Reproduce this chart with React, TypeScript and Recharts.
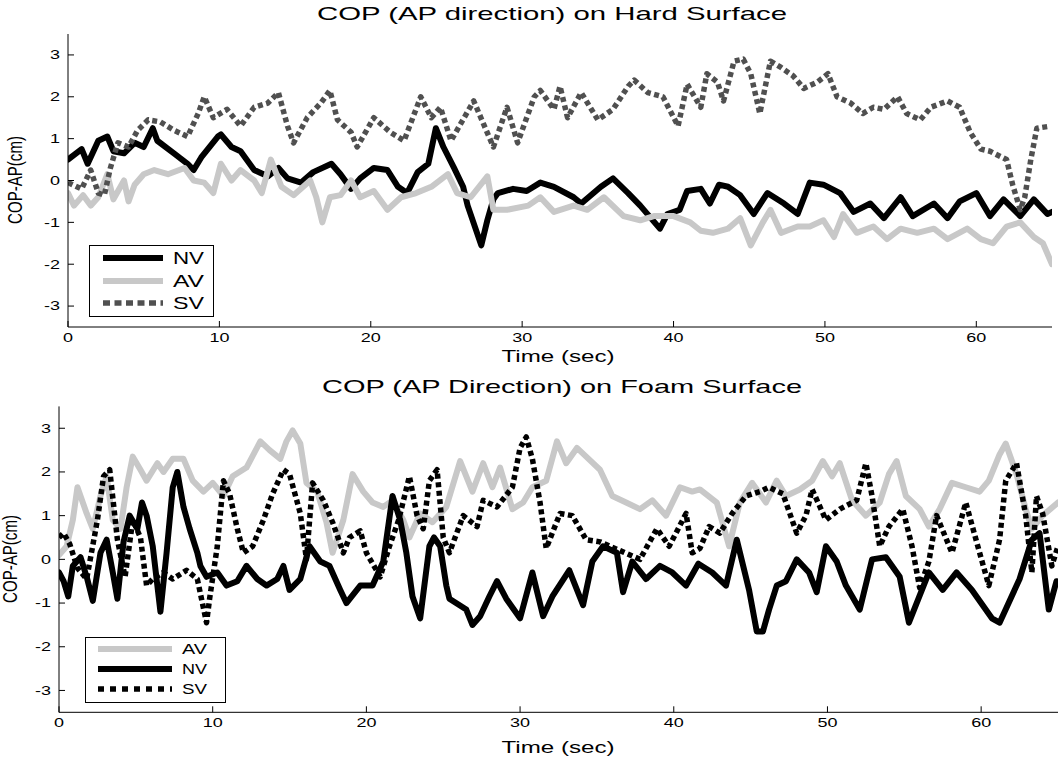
import React from 'react';
import { LineChart, Line, XAxis, YAxis, Legend } from 'recharts';

const FONT = 'Arial, "Liberation Sans", Helvetica, sans-serif';
const SX = 1.5; // the source picture is stretched sideways

const xTicks = [0, 10, 20, 30, 40, 50, 60];
const yTicks = [-3, -2, -1, 0, 1, 2, 3];

// ---- Hard surface ----
const hardNvT = [0, 0.9, 1.3, 2, 2.6, 3, 3.7, 4.4, 5, 5.6, 5.9, 7, 7.9, 8.3, 8.8, 9.9, 10.1, 10.8, 11.4, 12.3, 13.2, 13.9, 14.5, 15.4, 16.2, 17.4, 18, 18.7, 19.3, 20.2, 21.1, 21.8, 22.4, 23.1, 23.8, 24.3, 24.8, 25.5, 26.1, 26.4, 27.3, 27.7, 28.1, 28.4, 29.4, 30.3, 31.2, 32.1, 33.4, 33.9, 35.2, 36, 37, 37.8, 39.1, 39.6, 40.4, 40.9, 41.8, 42.4, 43, 43.6, 44.4, 45.3, 46.2, 47.3, 48.2, 49, 49.9, 51, 51.9, 53, 53.9, 55, 55.8, 57.2, 58.1, 58.9, 60, 60.9, 61.8, 62.9, 63.8, 64.7, 65];
const hardNvV = [0.5, 0.75, 0.4, 0.95, 1.05, 0.7, 0.65, 0.9, 0.8, 1.25, 0.95, 0.65, 0.4, 0.25, 0.55, 1.05, 1.1, 0.8, 0.7, 0.25, 0.1, 0.3, 0.05, -0.05, 0.2, 0.4, 0.15, -0.2, 0.05, 0.3, 0.25, -0.15, -0.3, 0.2, 0.4, 1.25, 0.8, 0.3, -0.15, -0.6, -1.55, -0.95, -0.45, -0.3, -0.2, -0.25, -0.05, -0.15, -0.4, -0.55, -0.15, 0.05, -0.3, -0.6, -1.15, -0.8, -0.7, -0.25, -0.2, -0.55, -0.1, -0.15, -0.35, -0.8, -0.3, -0.55, -0.8, -0.05, -0.1, -0.3, -0.75, -0.55, -0.9, -0.4, -0.85, -0.55, -0.9, -0.5, -0.3, -0.85, -0.45, -0.85, -0.45, -0.8, -0.75];

const hardAvT = [0, 0.4, 1, 1.5, 2, 2.6, 3, 3.7, 4, 4.4, 5, 5.7, 6.6, 7.7, 8.3, 9, 9.6, 10.1, 10.8, 11.4, 12.3, 12.8, 13.4, 14.1, 14.9, 16, 16.4, 16.8, 17.3, 18, 18.7, 19.3, 20.2, 21.1, 22, 23, 24, 25.1, 25.7, 26.6, 27.7, 28.1, 29, 30.4, 31.2, 32.1, 33.4, 34.3, 35.4, 36.7, 37.8, 38.7, 40, 41.1, 41.8, 42.6, 43.6, 44.4, 45.1, 45.9, 46.4, 47.1, 48.2, 49, 49.9, 50.6, 51.2, 52.1, 53.2, 54.1, 55, 56.1, 57.2, 58.1, 59.4, 60.3, 61.1, 62, 62.9, 63.8, 64.4, 65];
const hardAvV = [-0.3, -0.6, -0.35, -0.6, -0.4, 0.15, -0.45, 0, -0.5, -0.1, 0.15, 0.25, 0.15, 0.3, 0, -0.05, -0.3, 0.4, 0, 0.25, 0, -0.3, 0.5, -0.15, -0.35, 0, -0.4, -1.0, -0.4, -0.35, 0, -0.4, -0.25, -0.7, -0.4, -0.3, -0.15, 0.15, -0.3, -0.4, 0.1, -0.7, -0.7, -0.6, -0.4, -0.75, -0.6, -0.7, -0.4, -0.85, -0.95, -0.85, -0.85, -1.0, -1.2, -1.25, -1.15, -0.9, -1.55, -1.0, -0.7, -1.25, -1.1, -1.1, -0.95, -1.35, -0.8, -1.25, -1.1, -1.4, -1.15, -1.25, -1.15, -1.4, -1.15, -1.4, -1.5, -1.1, -1.0, -1.35, -1.5, -2.0];

const hardSvT = [0, 0.9, 1.5, 2, 2.4, 2.8, 3.3, 4, 4.6, 5.3, 6.1, 7, 7.9, 8.6, 9, 9.6, 10.5, 11.4, 12.3, 13.2, 13.9, 14.5, 14.9, 15.8, 16.7, 17.3, 17.8, 18.7, 19.1, 20.2, 21.3, 22.2, 23.3, 24, 24.6, 25.3, 26.8, 28.1, 29, 29.7, 30.8, 31.2, 32.1, 32.5, 33, 33.9, 35, 36, 37, 37.4, 38.3, 39.3, 40.3, 40.9, 41.8, 42.2, 42.9, 43.3, 44, 44.6, 45.1, 45.7, 46.4, 47.1, 47.9, 48.6, 49.5, 50.2, 50.8, 51.7, 52.5, 53.2, 53.9, 54.8, 55.4, 56.3, 57, 58.1, 58.9, 59.6, 60.3, 60.9, 62, 62.4, 62.9, 63.2, 63.6, 64, 64.9];
const hardSvV = [-0.05, -0.2, 0.25, -0.3, -0.35, 0.3, 0.9, 0.8, 1.2, 1.45, 1.4, 1.2, 1.05, 1.6, 2.0, 1.5, 1.7, 1.3, 1.75, 1.85, 2.1, 1.3, 0.9, 1.5, 1.85, 2.15, 1.45, 1.15, 0.8, 1.5, 1.15, 0.95, 2.0, 1.5, 1.75, 0.95, 1.9, 0.8, 1.75, 0.9, 2.0, 2.15, 1.7, 2.25, 1.5, 2.1, 1.45, 1.7, 2.25, 2.4, 2.1, 2.0, 1.3, 2.3, 1.75, 2.55, 2.35, 1.9, 2.85, 2.9, 2.55, 1.6, 2.85, 2.7, 2.5, 2.2, 2.35, 2.55, 2.0, 1.85, 1.6, 1.75, 1.7, 2.0, 1.6, 1.45, 1.75, 1.9, 1.75, 1.15, 0.75, 0.7, 0.5, -0.1, -0.7, -0.4, 0.5, 1.25, 1.3];

// ---- Foam surface ----
const foamAvT = [0, 0.5, 0.9, 1.2, 1.8, 2.2, 2.7, 3.1, 3.5, 4, 4.4, 4.8, 5.3, 5.7, 6.4, 6.8, 7.4, 8.1, 8.7, 9.4, 10, 10.7, 11.3, 12.2, 13.1, 13.7, 14.4, 14.8, 15.2, 15.7, 16.1, 16.8, 17.4, 17.8, 18.5, 19.1, 19.8, 20.4, 21.1, 21.7, 22.4, 22.8, 23.5, 24.3, 25.2, 26.1, 26.9, 27.6, 28.2, 28.7, 29.5, 30.2, 30.8, 31.7, 32.4, 33, 33.7, 34.3, 35.2, 36, 36.9, 37.8, 38.6, 39.5, 40.4, 41.2, 41.7, 42.8, 43.6, 44.3, 45.1, 46, 46.7, 47.3, 48.2, 49, 49.7, 50.3, 50.8, 51.6, 52.5, 53.4, 54, 54.5, 55.1, 56, 56.6, 57.3, 58.1, 59, 59.9, 60.5, 61.2, 61.6, 62.3, 62.9, 63.3, 64, 65];
const foamAvV = [0.1, 0.3, 0.9, 1.65, 1.05, 0.7, 1.45, 1.9, 0.9, 0.7, 1.65, 2.35, 2.05, 1.8, 2.2, 2.0, 2.3, 2.3, 1.8, 1.55, 1.75, 1.45, 1.9, 2.1, 2.7, 2.5, 2.3, 2.7, 2.95, 2.65, 1.75, 1.55, 0.85, 0.15, 0.9, 1.95, 1.55, 1.3, 1.2, 1.35, 0.9, 0.5, 1.05, 0.85, 1.2, 2.25, 1.55, 2.2, 1.65, 2.1, 1.15, 1.3, 1.65, 1.8, 2.7, 2.2, 2.55, 2.35, 2.05, 1.45, 1.3, 1.15, 1.35, 1.0, 1.65, 1.55, 1.6, 1.3, 0.3, 1.3, 1.75, 1.3, 1.8, 1.45, 1.6, 1.8, 2.25, 1.9, 2.2, 1.35, 1.0, 1.3, 1.95, 2.25, 1.45, 1.15, 0.75, 1.15, 1.75, 1.65, 1.55, 1.8, 2.4, 2.65, 1.95, 1.15, 0.7, 1.0, 1.3];

const foamNvT = [0, 0.3, 0.6, 0.9, 1.4, 1.8, 2.2, 2.7, 3.1, 3.5, 3.8, 4.2, 4.6, 5.1, 5.4, 5.7, 6.1, 6.6, 7, 7.4, 7.7, 8.1, 8.5, 9, 9.2, 9.6, 10.3, 10.9, 11.6, 12.2, 12.9, 13.5, 14.2, 14.6, 15, 15.7, 16.3, 17, 17.6, 18.3, 18.7, 19.6, 20.4, 21.1, 21.7, 22.2, 22.6, 23, 23.5, 24.1, 24.4, 24.8, 25.2, 25.4, 26.5, 26.9, 27.4, 28, 28.5, 29.1, 30, 30.8, 31.5, 32.1, 33.2, 34.1, 34.7, 35.4, 36.3, 36.7, 37.3, 38.2, 39.1, 39.9, 40.8, 41.6, 42.5, 43.4, 44.1, 44.9, 45.4, 45.8, 46.2, 46.7, 47.3, 48, 48.8, 49.3, 49.9, 50.6, 51.2, 52.1, 52.9, 53.8, 54.7, 55.3, 56.6, 57.5, 58.4, 59.4, 60.7, 61.2, 62.5, 63.3, 63.8, 64.4, 64.9];
const foamNvV = [-0.3, -0.5, -0.85, -0.15, 0.05, -0.4, -0.95, 0.15, 0.45, -0.3, -0.9, 0.4, 1.0, 0.7, 1.3, 1.0, 0.3, -1.2, 0.15, 1.65, 2.0, 1.2, 0.7, 0.15, -0.15, -0.4, -0.3, -0.6, -0.5, -0.15, -0.45, -0.6, -0.45, -0.15, -0.7, -0.45, 0.3, -0.05, -0.15, -0.7, -1.0, -0.6, -0.6, -0.05, 1.45, 0.9, 0.15, -0.85, -1.35, 0.3, 0.5, 0.3, -0.6, -0.9, -1.15, -1.5, -1.3, -0.85, -0.5, -0.9, -1.35, -0.3, -1.3, -0.85, -0.25, -1.05, -0.05, 0.3, 0.15, -0.75, -0.05, -0.45, -0.15, -0.3, -0.6, -0.1, -0.3, -0.6, 0.45, -0.7, -1.65, -1.65, -1.15, -0.6, -0.5, 0.0, -0.3, -0.75, 0.3, -0.05, -0.6, -1.15, 0.0, 0.05, -0.4, -1.45, -0.3, -0.7, -0.3, -0.7, -1.35, -1.45, -0.45, 0.45, 0.6, -1.15, -0.5];

const foamSvT = [0, 0.3, 0.7, 1.2, 1.8, 2.5, 2.9, 3.3, 3.8, 4.3, 4.8, 5.3, 5.7, 6.1, 6.8, 7.4, 8.3, 9, 9.6, 9.8, 10.3, 10.7, 11.1, 11.6, 12, 12.6, 13.3, 13.9, 14.6, 15, 15.7, 16.1, 16.5, 17.2, 17.8, 18.5, 18.9, 19.6, 20, 20.9, 21.5, 22.1, 22.8, 23.3, 23.7, 24.1, 24.6, 25, 25.4, 26.3, 27.2, 27.6, 28.5, 29.5, 30, 30.4, 30.8, 31.3, 31.7, 32.6, 33.4, 34.3, 35.2, 36.5, 37.8, 38.9, 39.7, 40.8, 41.2, 41.7, 42.3, 43, 43.8, 44.7, 45.6, 46.2, 47.1, 48, 48.6, 49, 49.9, 50.8, 51.9, 52.5, 52.9, 53.4, 54, 54.9, 55.5, 56, 56.6, 57.1, 58.1, 59, 59.9, 60.5, 61.2, 61.6, 62.3, 62.9, 63.3, 63.6, 64, 64.6, 65];
const foamSvV = [0.5, 0.6, 0.35, -0.2, -0.45, 0.9, 1.9, 2.05, 0.45, -0.4, 0.9, 0.5, -0.6, -0.45, -0.3, -0.45, -0.25, -0.45, -1.45, -0.9, 0.3, 1.8, 1.5, 0.7, 0.15, 0.3, 0.9, 1.5, 2.05, 1.95, 1.05, 0.0, 1.75, 1.35, 0.85, 0.15, 0.5, 0.65, 0.15, -0.4, 0.3, 0.9, 1.9, 1.0, 0.7, 1.8, 2.05, 0.5, 0.15, 1.0, 0.75, 1.35, 1.2, 1.65, 2.55, 2.8, 2.3, 1.3, 0.25, 1.05, 1.0, 0.45, 0.4, 0.2, 0.0, 0.7, 0.3, 1.05, 0.15, 0.25, 0.75, 0.6, 1.05, 1.45, 1.55, 1.65, 1.5, 0.6, 1.0, 1.6, 0.9, 1.15, 1.35, 2.2, 1.45, 0.3, 0.75, 1.15, 0.3, -0.65, -0.05, 1.0, 0.15, 1.3, 0.15, -0.6, 0.45, 1.8, 2.2, 1.0, -0.3, 1.45, 1.05, -0.15, 0.3];

const pts = (t: number[], v: number[]) => t.map((x, i) => ({ t: x, v: v[i] }));

const XTick = (p: any) => (
  <text transform={`translate(${p.x},${p.y}) scale(${SX},1)`} textAnchor="middle" dy="0.71em" fontSize={12} fontFamily={FONT} fill="#000">
    {p.payload.value}
  </text>
);
const YTick = (p: any) => (
  <text transform={`translate(${p.x},${p.y}) scale(${SX},1)`} textAnchor="end" dy="0.36em" fontSize={12} fontFamily={FONT} fill="#000">
    {p.payload.value}
  </text>
);
const NoTick = () => <g />;

type Item = { name: string; color: string; width: number; dash?: string };

const makeLegend = (items: Item[], w: number, h: number, rows: number[], x1: number, x2: number, tx: number, fs: number, tl: number, legendDash: string) => () => (
  <svg width={w} height={h} style={{ display: 'block' }}>
    <rect x={0.5} y={0.5} width={w - 1} height={h - 1} fill="#fff" stroke="#000" strokeWidth={1} />
    {items.map((it, i) => (
      <g key={it.name}>
        <line x1={x1} x2={x2} y1={rows[i]} y2={rows[i]} stroke={it.color} strokeWidth={it.width} strokeDasharray={it.dash ? legendDash : undefined} />
        <text x={tx} y={rows[i]} dy="0.36em" fontSize={fs} fontFamily={FONT} textLength={tl} lengthAdjust="spacingAndGlyphs">{it.name}</text>
      </g>
    ))}
  </svg>
);

const Panel = (c: any) => (
  <div style={{ position: 'absolute', left: 0, top: c.top }}>
    <LineChart width={1062} height={c.height} margin={c.margin}>
      <XAxis type="number" dataKey="t" domain={[0, 65]} ticks={xTicks} interval={0} height={40} tickSize={-6} tickMargin={12} tick={XTick} axisLine={{ stroke: '#000' }} tickLine={{ stroke: '#000' }} allowDataOverflow />
      <XAxis xAxisId="top" orientation="top" type="number" domain={[0, 65]} ticks={xTicks} interval={0} height={0} tickSize={-6} tick={NoTick} axisLine={{ stroke: '#000' }} tickLine={{ stroke: '#000' }} allowDataOverflow />
      <YAxis type="number" domain={[-3.5, 3.5]} ticks={yTicks} interval={0} width={c.yWidth} tickSize={-6} tickMargin={14} tick={YTick} axisLine={{ stroke: '#000' }} tickLine={{ stroke: '#000' }} allowDataOverflow />
      <YAxis yAxisId="right" orientation="right" type="number" domain={[-3.5, 3.5]} ticks={yTicks} interval={0} width={0} tickSize={-6} tick={NoTick} axisLine={{ stroke: '#000' }} tickLine={{ stroke: '#000' }} allowDataOverflow />
      {c.series.map((s: any) => (
        <Line key={s.name} data={s.data} dataKey="v" name={s.name} type="linear" stroke={s.color} strokeWidth={s.width} strokeDasharray={s.dash} strokeLinejoin="round" strokeLinecap={s.dash ? 'butt' : 'round'} dot={false} activeDot={false} isAnimationActive={false} />
      ))}
      <Legend content={c.legend} wrapperStyle={c.legendBox} layout="vertical" align="center" verticalAlign="middle" />
      <text transform={`translate(${c.titleX},${c.titleY})`} textAnchor="middle" fontSize={19} fontFamily={FONT} textLength={c.titleLen} lengthAdjust="spacingAndGlyphs">{c.title}</text>
      <text transform={`translate(${c.timeX},${c.timeY})`} textAnchor="middle" fontSize={16} fontFamily={FONT} textLength={113} lengthAdjust="spacingAndGlyphs">Time (sec)</text>
      <text transform={`translate(${c.labelX},${c.labelY}) rotate(-90) scale(1,1.4)`} textAnchor="middle" fontSize={14} fontFamily={FONT} textLength={88} lengthAdjust="spacingAndGlyphs">COP-AP(cm)</text>
    </LineChart>
  </div>
);

const hardItems: Item[] = [
  { name: 'NV', color: '#000000', width: 6 },
  { name: 'AV', color: '#c8c8c8', width: 6 },
  { name: 'SV', color: '#505050', width: 5.5, dash: '5 3.5' },
];
const foamItems: Item[] = [
  { name: 'AV', color: '#c8c8c8', width: 6 },
  { name: 'NV', color: '#000000', width: 6 },
  { name: 'SV', color: '#000000', width: 5.5, dash: '5 3.5' },
];

export default function App() {
  const hardSeries = [
    { ...hardItems[0], data: pts(hardNvT, hardNvV) },
    { ...hardItems[1], data: pts(hardAvT, hardAvV) },
    { ...hardItems[2], data: pts(hardSvT, hardSvV) },
  ];
  const foamSeries = [
    { ...foamItems[0], data: pts(foamAvT, foamAvV) },
    { ...foamItems[1], data: pts(foamNvT, foamNvV) },
    { ...foamItems[2], data: pts(foamSvT, foamSvV) },
  ];
  return (
    <div style={{ position: 'absolute', left: 0, top: 0, width: 1062, height: 761, background: '#fff' }}>
      <Panel
        top={0}
        height={372}
        margin={{ top: 34, right: 10, left: 8, bottom: 5 }}
        yWidth={60}
        series={hardSeries}
        title="COP (AP direction) on Hard Surface"
        titleX={552}
        titleY={20}
        titleLen={470}
        timeX={558}
        timeY={362}
        labelX={22}
        labelY={180}
        legendBox={{ left: 89, top: 245, width: 125, height: 72 }}
        legend={makeLegend(hardItems, 125, 72, [13, 36, 58], 14, 74, 84, 17, 31, '7 4.5')}
      />
      <Panel
        top={372}
        height={389}
        margin={{ top: 34.4, right: 4, left: 9, bottom: 8.7 }}
        yWidth={50}
        series={foamSeries}
        title="COP (AP Direction) on Foam Surface"
        titleX={562}
        titleY={21}
        titleLen={480}
        timeX={558}
        timeY={381}
        labelX={17}
        labelY={187}
        legendBox={{ left: 85, top: 265, width: 141, height: 66 }}
        legend={makeLegend(foamItems, 141, 66, [12, 32, 52], 13, 87, 97, 15, 25, '6 6')}
      />
    </div>
  );
}
